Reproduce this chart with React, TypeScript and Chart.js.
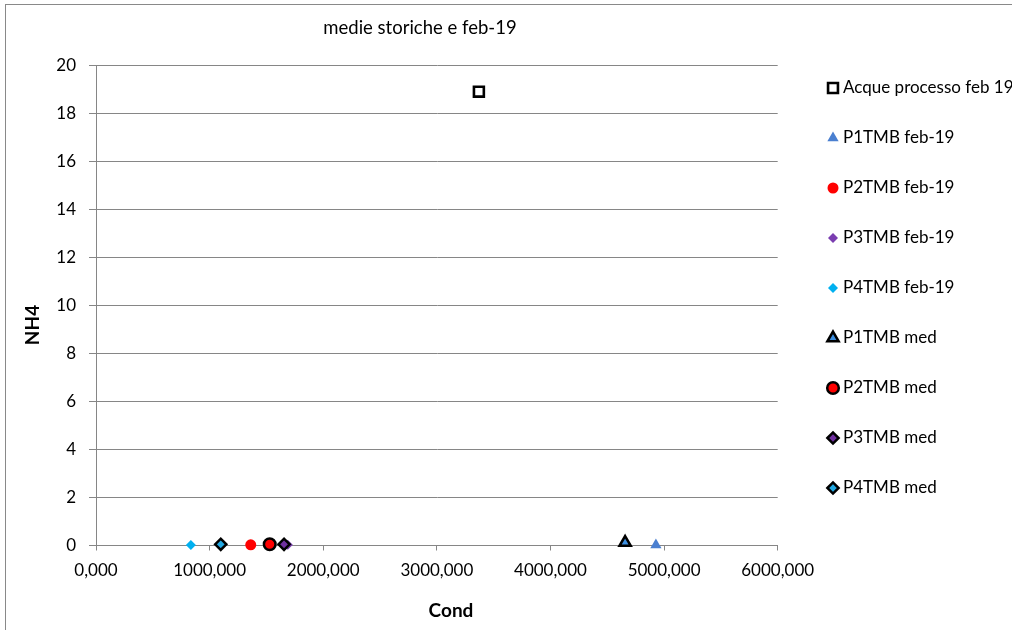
import React, { useEffect, useRef } from 'react';
import { Chart, registerables } from 'chart.js';
import { drawPoint } from 'chart.js/helpers';

Chart.register(...registerables);

// ---- data ----
const chartTitle = 'medie storiche e feb-19';
const xAxisTitle = 'Cond';
const yAxisTitle = 'NH4';
const seriesNames = [
  'Acque processo feb 19',
  'P1TMB feb-19',
  'P2TMB feb-19',
  'P3TMB feb-19',
  'P4TMB feb-19',
  'P1TMB med',
  'P2TMB med',
  'P3TMB med',
  'P4TMB med',
];
const condValues = [3370, 4928, 1362, 1688, 835, 4657, 1529, 1655, 1098];
const nh4Values = [18.91, 0.02, 0.03, 0.03, 0.02, 0.12, 0.05, 0.05, 0.05];
const xMin = 0;
const xMax = 6000;
const xStep = 1000;
const yMin = 0;
const yMax = 20;
const yStep = 2;

// ---- styles ----
const pointStyles = ['rect', 'triangle', 'circle', 'rectRot', 'rectRot', 'triangle', 'circle', 'rectRot', 'rectRot'];
const fillColors = ['#ffffff', '#4a7fd0', '#ff0000', '#7a3db0', '#00b0f0', '#3d8fe0', '#ff0000', '#7030a0', '#22a8e2'];
const borderColors = ['#000000', '#4a7fd0', '#ff0000', '#7a3db0', '#00b0f0', '#000000', '#000000', '#000000', '#000000'];
const radii = [7, 6.5, 5.5, 5, 5, 6.5, 5.8, 5.6, 5.6];
const borderWidths = [2.6, 0, 0, 0, 0, 2.5, 2.5, 2.5, 2.5];

const FONT = 'Lato, "Liberation Sans", sans-serif';
const GRAY = '#868686';

const fmt = (v: number) => v.toFixed(3).replace('.', ',');

const overlayPlugin = {
  id: 'overlay',
  afterDraw(chart: any) {
    const ctx = chart.ctx as CanvasRenderingContext2D;
    ctx.save();
    // title
    ctx.fillStyle = '#000';
    ctx.font = `18.5px ${FONT}`;
    ctx.textAlign = 'center';
    ctx.textBaseline = 'middle';
    ctx.fillText(chartTitle, 420, 28);
    // axis titles
    ctx.font = `bold 19px ${FONT}`;
    ctx.fillText(xAxisTitle, 451, 611);
    ctx.save();
    ctx.translate(33, 325);
    ctx.rotate(-Math.PI / 2);
    ctx.fillText(yAxisTitle, 0, 0);
    ctx.restore();
    // legend
    const markerX = 833;
    const textX = 843;
    const top = 88;
    const gap = 50;
    seriesNames.forEach((name, i) => {
      const y = top + i * gap;
      ctx.fillStyle = fillColors[i];
      ctx.strokeStyle = borderColors[i];
      ctx.lineWidth = borderWidths[i];
      drawPoint(ctx, { pointStyle: pointStyles[i], radius: radii[i], borderWidth: borderWidths[i], rotation: 0 } as any, markerX, y);
      ctx.fillStyle = '#000';
      ctx.textAlign = 'left';
      ctx.textBaseline = 'middle';
      ctx.font = `17px ${FONT}`;
      ctx.fillText(name, textX, y);
    });
    ctx.restore();
  },
};

export default function App() {
  const canvasRef = useRef<HTMLCanvasElement | null>(null);

  useEffect(() => {
    if (!canvasRef.current) return;
    const n = seriesNames.length;
    const datasets = seriesNames.map((name, i) => ({
      label: name,
      data: [{ x: condValues[i], y: nh4Values[i] }],
      pointStyle: pointStyles[i],
      pointRadius: radii[i],
      pointBackgroundColor: fillColors[i],
      pointBorderColor: borderColors[i],
      pointBorderWidth: borderWidths[i],
      showLine: false,
      clip: false,
      order: n - i,
    }));
    const chart = new Chart(canvasRef.current, {
      type: 'scatter',
      data: { datasets } as any,
      options: {
        responsive: false,
        animation: false,
        events: [],
        layout: { padding: { left: 0, right: 234.3, top: 65.5, bottom: 0 } },
        plugins: {
          legend: { display: false },
          title: { display: false },
          tooltip: { enabled: false },
        },
        scales: {
          x: {
            type: 'linear',
            position: 'bottom',
            min: xMin,
            max: xMax,
            ticks: {
              stepSize: xStep,
              callback: (v: any) => fmt(Number(v)),
              font: { family: FONT, size: 17 },
              color: '#000',
              padding: 10,
              maxRotation: 0,
              autoSkip: false,
            },
            grid: { drawOnChartArea: false, drawTicks: true, tickLength: 5, color: GRAY },
            border: { color: GRAY, width: 1 },
            title: { display: false },
            afterFit: (s: any) => {
              s.height = 84.5;
            },
          },
          y: {
            type: 'linear',
            min: yMin,
            max: yMax,
            ticks: {
              stepSize: yStep,
              font: { family: FONT, size: 17 },
              color: '#000',
              padding: 13,
            },
            grid: { drawTicks: true, tickLength: 7, color: GRAY },
            border: { color: GRAY, width: 1 },
            title: { display: false },
            afterFit: (s: any) => {
              s.width = 96;
            },
          },
        },
      } as any,
      plugins: [overlayPlugin],
    });
    return () => chart.destroy();
  }, []);

  return (
    <div style={{ position: 'fixed', left: 0, top: 0, width: 1012, height: 630, overflow: 'hidden', background: '#fff' }}>
      <div
        style={{
          position: 'absolute',
          left: 5,
          top: 4,
          width: 1100,
          height: 700,
          border: '1px solid #898989',
          boxSizing: 'border-box',
        }}
      />
      <canvas ref={canvasRef} width={1012} height={630} style={{ position: 'absolute', left: 0, top: 0, width: 1012, height: 630 }} />
    </div>
  );
}
